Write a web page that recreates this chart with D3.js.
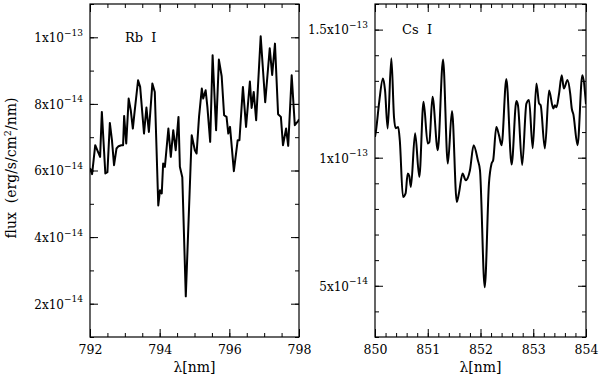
<!DOCTYPE html>
<html>
<head>
<meta charset="utf-8">
<script src="https://cdn.jsdelivr.net/npm/d3@7"></script>
<style>
  html, body { margin: 0; padding: 0; background: #fff; }
  svg { display: block; }
  text { font-family: "DejaVu Serif", "Liberation Serif", serif; fill: #000; }
  .tick line { stroke: #000; stroke-width: 1; }
</style>
</head>
<body>
<div id="chart"></div>
<script>
'use strict'
// flux values are in units of 1e-14 erg/s/cm2/nm
var rbWave = [792.00, 792.06, 792.15, 792.23, 792.29, 792.34, 792.44, 792.50, 792.57, 792.63,
  792.69, 792.76, 792.82, 792.90, 792.95, 792.98, 793.04, 793.11, 793.17, 793.23,
  793.28, 793.38, 793.44, 793.55, 793.62, 793.69, 793.79, 793.86, 793.96, 794.01,
  794.06, 794.10, 794.15, 794.25, 794.32, 794.39, 794.46, 794.54, 794.58, 794.65,
  794.75, 794.92, 795.01, 795.06, 795.13, 795.21, 795.25, 795.32, 795.37, 795.45,
  795.52, 795.62, 795.70, 795.78, 795.85, 795.92, 795.97, 796.02, 796.13, 796.24,
  796.29, 796.39, 796.48, 796.59, 796.64, 796.70, 796.77, 796.90, 797.03, 797.16,
  797.23, 797.31, 797.40, 797.48, 797.54, 797.63, 797.69, 797.79, 797.88, 797.98, 798.00]
var rbFlux = [6.07, 5.89, 6.76, 6.56, 6.41, 7.76, 5.91, 5.95, 7.43, 6.91,
  6.16, 6.66, 6.73, 6.76, 6.76, 7.64, 6.81, 8.16, 7.81, 7.26,
  7.76, 8.71, 8.51, 7.11, 7.89, 7.16, 8.61, 8.36, 4.95, 5.41,
  5.31, 6.21, 6.11, 7.26, 6.41, 7.21, 6.61, 7.61, 6.11, 5.80,
  2.22, 7.06, 6.61, 6.51, 7.61, 8.46, 8.16, 8.41, 7.91, 6.86,
  9.46, 7.21, 9.33, 8.83, 7.66, 7.61, 7.11, 7.31, 5.98, 6.91,
  6.91, 8.51, 7.31, 8.67, 7.88, 8.36, 7.51, 10.03, 8.05, 9.67,
  8.87, 9.81, 7.69, 7.61, 6.76, 7.26, 6.74, 8.86, 7.36, 7.49, 7.54]

var csWave = [850.00, 850.02, 850.08, 850.15, 850.19, 850.24, 850.31, 850.36, 850.39, 850.44,
  850.47, 850.53, 850.58, 850.62, 850.65, 850.68, 850.76, 850.84, 850.92, 851.00,
  851.03, 851.09, 851.19, 851.29, 851.38, 851.46, 851.55, 851.59, 851.66, 851.72,
  851.80, 851.87, 851.95, 851.99, 852.08, 852.16, 852.21, 852.24, 852.30, 852.35,
  852.40, 852.49, 852.59, 852.68, 852.71, 852.79, 852.87, 852.92, 852.99, 853.06,
  853.11, 853.14, 853.22, 853.30, 853.38, 853.41, 853.44, 853.49, 853.54, 853.58,
  853.65, 853.70, 853.73, 853.76, 853.84, 853.93, 854.00]
var csFlux = [10.81, 11.07, 12.18, 13.09, 12.64, 11.14, 13.88, 11.59, 11.15, 11.20,
  10.68, 8.47, 8.61, 9.38, 9.28, 8.86, 10.95, 9.25, 12.18, 10.55,
  10.60, 12.38, 10.29, 13.83, 9.77, 11.82, 8.27, 8.60, 9.38, 9.12,
  9.51, 10.49, 9.90, 9.51, 4.94, 8.99, 9.77, 9.90, 11.20, 10.88,
  10.49, 13.07, 9.73, 12.21, 12.05, 9.71, 12.11, 12.25, 10.37, 12.90,
  12.12, 12.05, 10.36, 12.62, 11.92, 12.05, 11.97, 12.51, 13.22, 12.70,
  13.03, 12.51, 11.92, 11.70, 10.49, 13.22, 12.09]

var rbXTicks = [792, 794, 796, 798]
var rbYTicks = [2, 4, 6, 8, 10]
var rbYLabels = [['2x10', '\u221214'], ['4x10', '\u221214'], ['6x10', '\u221214'], ['8x10', '\u221214'], ['1x10', '\u221213']]
var csXTicks = [850, 851, 852, 853, 854]
var csYTicks = [5, 10, 15]
var csYLabels = [['5x10', '\u221214'], ['1x10', '\u221213'], ['1.5x10', '\u221213']]

var width = 600, height = 379
var svg = d3.select('#chart').append('svg')
  .attr('width', width)
  .attr('height', height)

var panels = [
  {
    id: 'rb', name: 'Rb  I', wave: rbWave, flux: rbFlux,
    xDomain: [792, 798], yDomain: [1, 11],
    left: 90, right: 299,
    xTicks: rbXTicks, xMinor: d3.range(792, 798.01, 0.5),
    yTicks: rbYTicks, yLabels: rbYLabels, yMinor: d3.range(1, 11.01, 1),
    curve: d3.curveLinear, nameX: 125, nameY: 42
  },
  {
    id: 'cs', name: 'Cs  I', wave: csWave, flux: csFlux,
    xDomain: [850, 854], yDomain: [3, 16],
    left: 375, right: 586,
    xTicks: csXTicks, xMinor: d3.range(850, 854.01, 0.2),
    yTicks: csYTicks, yLabels: csYLabels, yMinor: d3.range(3, 16.01, 1),
    curve: d3.curveMonotoneX, nameX: 402, nameY: 34
  }
]
var plotTop = 4, plotBottom = 337

panels.forEach(p => {
  var x = d3.scaleLinear().domain(p.xDomain).range([p.left, p.right])
  var y = d3.scaleLinear().domain(p.yDomain).range([plotBottom, plotTop])
  var g = svg.append('g')

  // minor ticks, all four sides, pointing inward
  g.append('g').attr('transform', `translate(0,${plotBottom})`)
    .call(d3.axisBottom(x).tickValues(p.xMinor).tickSize(-4).tickFormat(''))
  g.append('g').attr('transform', `translate(0,${plotTop})`)
    .call(d3.axisTop(x).tickValues(p.xMinor).tickSize(-4).tickFormat(''))
  g.append('g').attr('transform', `translate(${p.left},0)`)
    .call(d3.axisLeft(y).tickValues(p.yMinor).tickSize(-4).tickFormat(''))
  g.append('g').attr('transform', `translate(${p.right},0)`)
    .call(d3.axisRight(y).tickValues(p.yMinor).tickSize(-4).tickFormat(''))

  // major ticks
  var xb = g.append('g').attr('transform', `translate(0,${plotBottom})`)
    .call(d3.axisBottom(x).tickValues(p.xTicks).tickSize(-8).tickPadding(8).tickFormat(d3.format('d')))
  xb.selectAll('.tick text').attr('font-size', 12.5).attr('font-family', '"DejaVu Serif", serif')
  g.append('g').attr('transform', `translate(0,${plotTop})`)
    .call(d3.axisTop(x).tickValues(p.xTicks).tickSize(-8).tickFormat(''))
  var yl = g.append('g').attr('transform', `translate(${p.left},0)`)
    .call(d3.axisLeft(y).tickValues(p.yTicks).tickSize(-8).tickPadding(7).tickFormat(''))
  g.append('g').attr('transform', `translate(${p.right},0)`)
    .call(d3.axisRight(y).tickValues(p.yTicks).tickSize(-8).tickFormat(''))

  yl.selectAll('.tick text').each(function (d, i) {
    var t = d3.select(this)
      .attr('font-size', 12).attr('font-family', '"DejaVu Serif", serif')
      .attr('dy', '0.36em')
    t.text(null)
    t.append('tspan').text(p.yLabels[i][0])
    t.append('tspan').attr('font-size', 9).attr('dy', '-0.7em').text(p.yLabels[i][1])
  })

  g.selectAll('.domain').remove()

  // frame
  g.append('rect')
    .attr('x', p.left).attr('y', plotTop)
    .attr('width', p.right - p.left).attr('height', plotBottom - plotTop)
    .attr('fill', 'none').attr('stroke', '#000').attr('stroke-width', 1.2)

  g.append('clipPath').attr('id', 'clip-' + p.id)
    .append('rect')
    .attr('x', p.left).attr('y', plotTop)
    .attr('width', p.right - p.left).attr('height', plotBottom - plotTop)

  var line = d3.line()
    .x((d, i) => x(p.wave[i]))
    .y(d => y(d))
    .curve(p.curve)

  g.append('path')
    .attr('d', line(p.flux))
    .attr('clip-path', `url(#clip-${p.id})`)
    .attr('fill', 'none')
    .attr('stroke', '#000')
    .attr('stroke-width', 2)
    .attr('stroke-linejoin', 'round')

  g.append('text')
    .attr('x', p.nameX).attr('y', p.nameY)
    .attr('font-size', 13)
    .style('white-space', 'pre')
    .text(p.name)

  g.append('text')
    .attr('x', (p.left + p.right) / 2).attr('y', 372)
    .attr('text-anchor', 'middle')
    .attr('font-size', 14)
    .text('\u03bb[nm]')
})

// y axis title
var yt = svg.append('text')
  .attr('transform', 'translate(16,168) rotate(-90)')
  .attr('text-anchor', 'middle')
  .attr('font-size', 14)
  .style('white-space', 'pre')
yt.append('tspan').text('flux  (erg/s/cm')
yt.append('tspan').attr('font-size', 9.5).attr('dy', -5).text('2')
yt.append('tspan').attr('dy', 5).text('/nm)')
</script>
</body>
</html>
